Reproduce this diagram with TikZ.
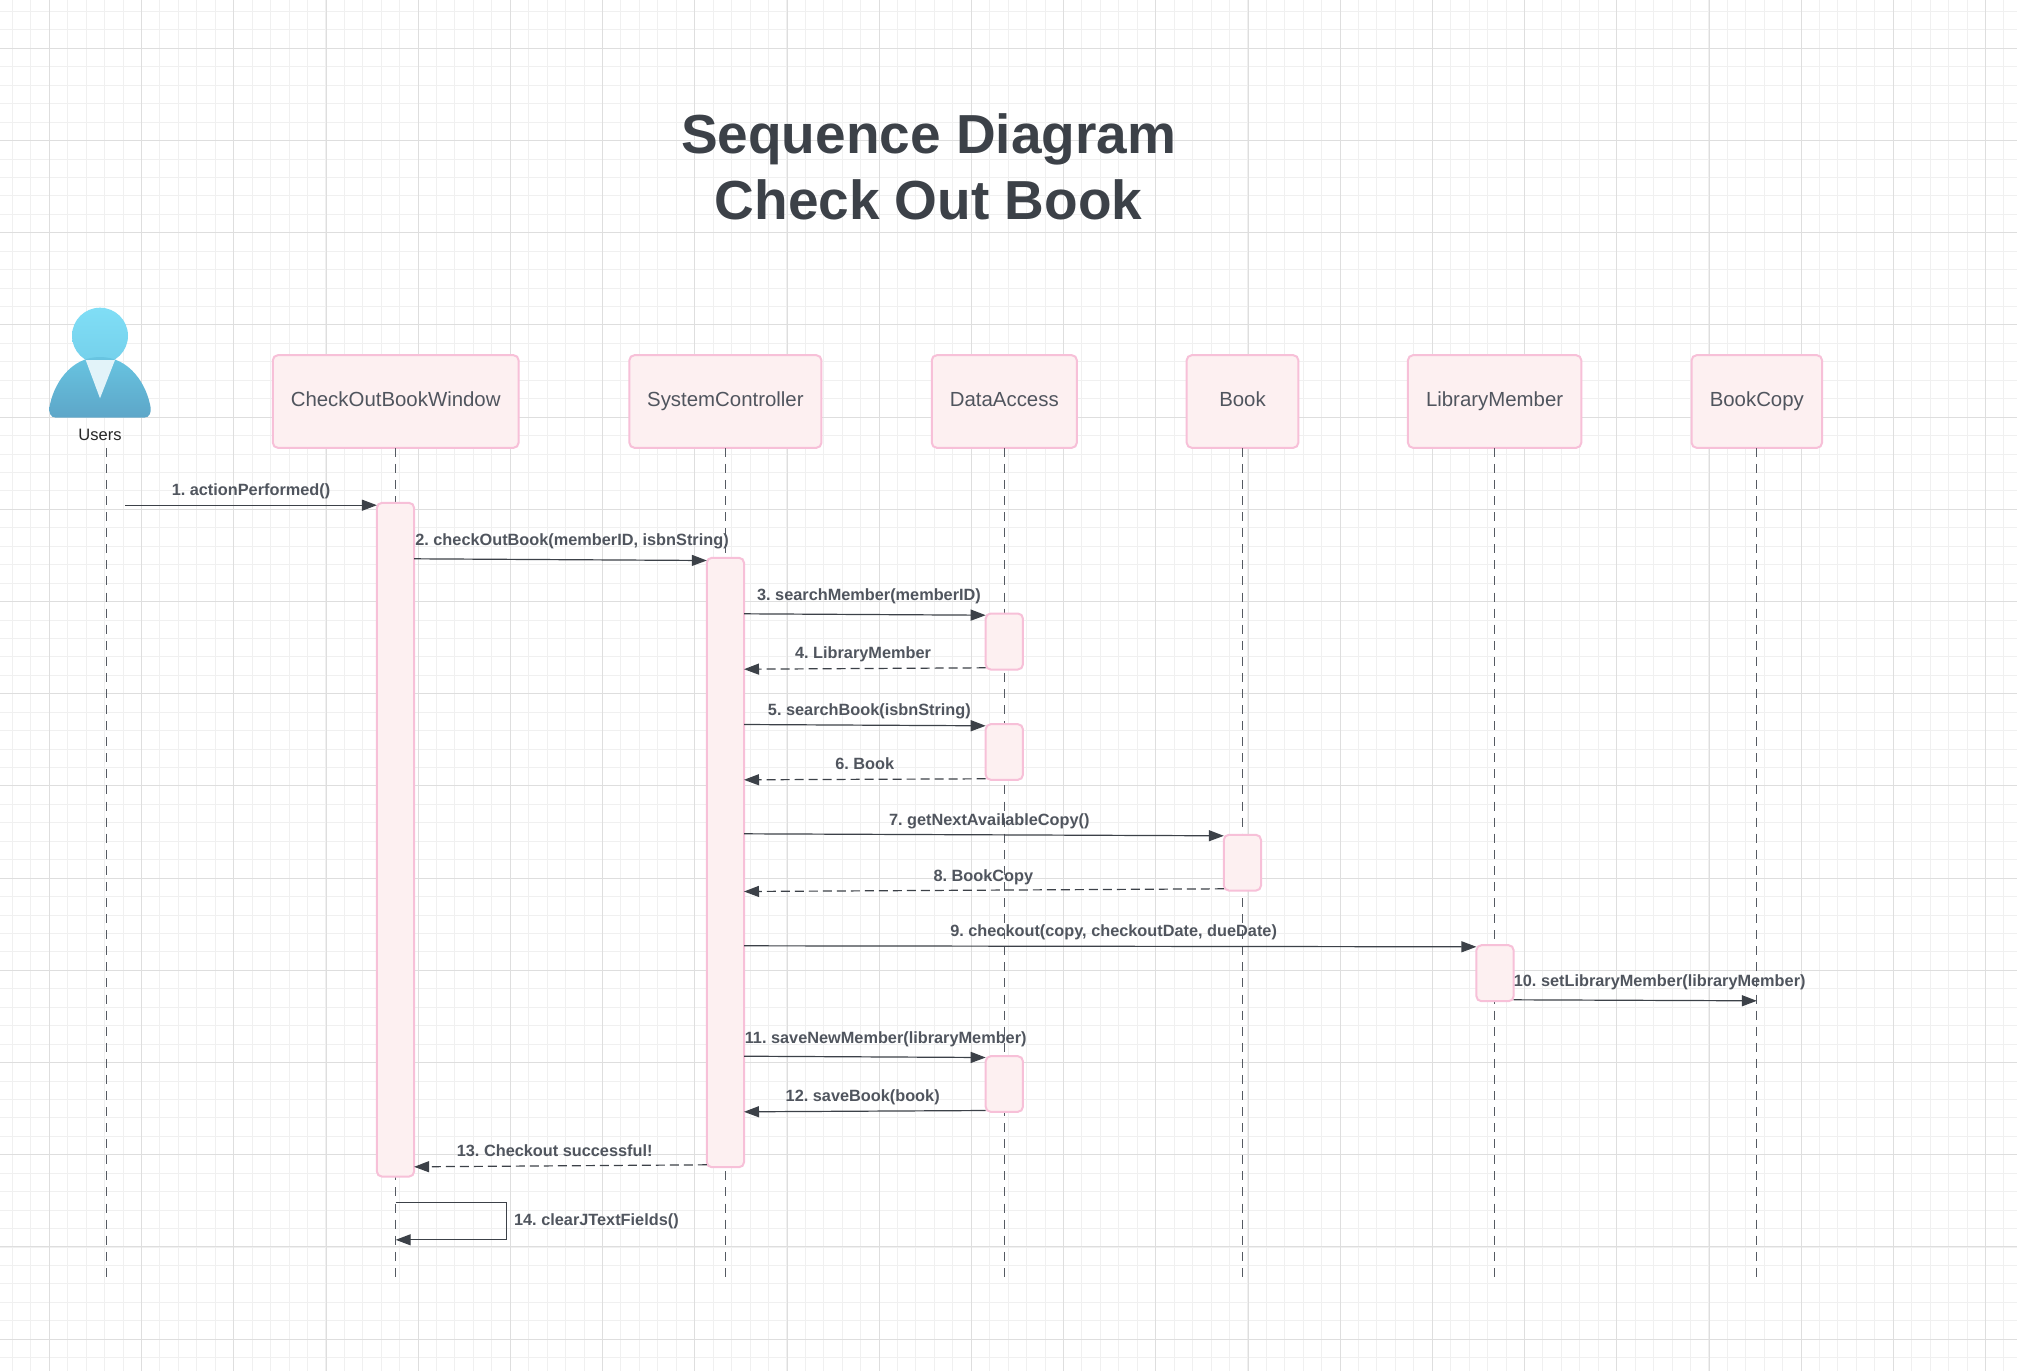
\documentclass[tikz,border=0pt]{standalone}
\usepackage{fontspec}
\setmainfont{Liberation Sans}
\frenchspacing
\usepackage{xcolor}
\definecolor{gridminor}{RGB}{240, 240, 240}
\definecolor{gridmajor}{RGB}{222, 222, 222}
\definecolor{boxfill}{RGB}{253, 240, 241}
\definecolor{boxline}{RGB}{247, 192, 216}
\definecolor{darkslate}{RGB}{60, 65, 72}
\definecolor{lifegray}{RGB}{85, 90, 98}
\definecolor{boxtext}{RGB}{80, 85, 94}
\definecolor{headtop}{RGB}{128, 222, 246}
\definecolor{headlow}{RGB}{116, 208, 235}
\definecolor{bodytop}{RGB}{104, 196, 225}
\definecolor{bodylow}{RGB}{93, 166, 200}
\definecolor{collar}{RGB}{226, 243, 249}
\usepackage{tikz}
\usetikzlibrary{arrows.meta, positioning, calc}
\tikzset{
    classbox/.style={draw=boxline, fill=boxfill, line width=2pt, rounded corners=5pt, outer sep=0pt, minimum height=92.6pt,
        text=boxtext, text height=1.2em, text depth=0.16em, font=\fontsize{20.4}{24}\selectfont},
    actbox/.style={draw=boxline, fill=boxfill, line width=2pt, rounded corners=5pt, outer sep=0pt, minimum width=37.2pt},
    lifeline/.style={draw=lifegray, line width=1.1pt, dash pattern=on 9pt off 7.08pt},
    call/.style={draw=darkslate, line width=1.2pt, ->},
    back/.style={call, dash pattern=on 9pt off 5pt},
    msglabel/.style={text=boxtext, inner sep=0pt, text height=0.75em, text depth=0.2em, font=\fontsize{16.3}{20}\selectfont\bfseries}
}
\begin{document}
\begin{tikzpicture}[x=1pt, y=-1pt, >={Stealth[inset=0pt, length=15pt, width=11pt]}]
    \useasboundingbox (0,0) rectangle (2017,1371);
    \fill[white] (0,0) rectangle (2017,1371);
    % background grid
    \foreach \i in {0,...,108} \draw[gridminor, line width=1pt] ({12.4+18.44*\i},0) -- ({12.4+18.44*\i},1371);
    \foreach \i in {0,...,74} \draw[gridminor, line width=1pt] (0,{11.5+18.44*\i}) -- (2017,{11.5+18.44*\i});
    \foreach \i in {0,...,21} \draw[gridmajor, line width=1pt] ({49.4+92.2*\i},0) -- ({49.4+92.2*\i},1371);
    \foreach \i in {0,...,14} \draw[gridmajor, line width=1pt] (0,{48.3+92.2*\i}) -- (2017,{48.3+92.2*\i});

    \node[text=darkslate, align=center, inner sep=0pt, font=\fontsize{55}{66.6}\selectfont\bfseries] (title) at (928.6,167) {Sequence Diagram\\Check Out Book};

    % the user figure
    \shade[top color=headtop, bottom color=headlow] (100,335.7) circle (28);
    \shade[top color=bodytop, bottom color=bodylow] (56,417.7) -- (144,417.7) .. controls (150,417.7) and (151,412) .. (150.7,408)
        .. controls (147,385) and (130,357) .. (100,357) .. controls (70,357) and (53,385) .. (49.3,408)
        .. controls (49,412) and (50,417.7) .. (56,417.7) -- cycle;
    \fill[collar] (85.7,360) -- (115,360) -- (100,398.3) -- cycle;
    \node[text=black!85, inner sep=0pt, font=\fontsize{16.5}{20}\selectfont] (users) at (100,435) {Users};

    \begin{scope}[yshift=-0.5pt]
    \node[classbox, minimum width=245.7pt] (window) at (395.7,401) {CheckOutBookWindow};
    \node[classbox, minimum width=192pt] (control) at (725.4,401) {SystemController};
    \node[classbox, minimum width=145pt] (access) at (1004.3,401) {DataAccess};
    \node[classbox, minimum width=111.6pt] (book) at (1242.5,401) {Book};
    \node[classbox, minimum width=173.3pt] (member) at (1494.6,401) {LibraryMember};
    \node[classbox, minimum width=130.4pt] (copy) at (1756.8,401) {BookCopy};

    % lifelines
    \coordinate (bottom) at (0,1276.3);
    \coordinate (usersTop) at (106.5,447.3);
    \coordinate (usersEnd) at (106.5,1276.3);
    \draw[lifeline] (usersTop) -- (usersEnd);
    \foreach \n in {window,control,access,book,member,copy} \draw[lifeline] (\n.south) -- (\n.south |- bottom);

    \node[actbox, minimum height=673.7pt] (actWindow) at (395.5,839.2) {};
    \node[actbox, minimum height=609.4pt] (actControl) at (725.4,862) {};
    \node[actbox, minimum height=56pt] (actAccessA) at (1004.3,641) {};
    \node[actbox, minimum height=55.6pt] (actAccessB) at (1004.3,751.5) {};
    \node[actbox, minimum height=55.7pt] (actBook) at (1242.4,862.2) {};
    \node[actbox, minimum height=56pt] (actMember) at (1495,972.7) {};
    \node[actbox, minimum height=55.6pt] (actAccessC) at (1004.3,1083.5) {};

    % messages
    \coordinate (start) at (125,504.7);
    \draw[call] (start) -- (actWindow.west |- start);
    \node[msglabel] (m1) at (251,492.5) {1. actionPerformed()};
    \draw[call] (actWindow.east |- 0,558.3) -- (actControl.west |- 0,560);
    \node[msglabel] (m2) at (572,542.5) {2. checkOutBook(memberID, isbnString)};
    \draw[call] (actControl.east |- 0,613.3) -- (actAccessA.west |- 0,614.7);
    \node[msglabel] (m3) at (869,597.5) {3. searchMember(memberID)};
    \draw[back] (actAccessA.west |- 0,667.3) -- (actControl.east |- 0,668.7);
    \node[msglabel] (m4) at (863,655.5) {4. LibraryMember};
    \draw[call] (actControl.east |- 0,724) -- (actAccessB.west |- 0,725.3);
    \node[msglabel] (m5) at (869.4,712.5) {5. searchBook(isbnString)};
    \draw[back] (actAccessB.west |- 0,778.3) -- (actControl.east |- 0,779.3);
    \node[msglabel] (m6) at (864.7,766.3) {6. Book};
    \draw[call] (actControl.east |- 0,833.3) -- (actBook.west |- 0,835.3);
    \node[msglabel] (m7) at (989.3,822.3) {7. getNextAvailableCopy()};
    \draw[back] (actBook.west |- 0,888.3) -- (actControl.east |- 0,891);
    \node[msglabel] (m8) at (983.3,878) {8. BookCopy};
    \draw[call] (actControl.east |- 0,945.3) -- (actMember.west |- 0,946.3);
    \node[msglabel] (m9) at (1113.6,933.5) {9. checkout(copy, checkoutDate, dueDate)};
    \draw[call] (actMember.east |- 0,999.3) -- (copy.south |- 0,1000.3);
    \node[msglabel] (m10) at (1659.7,983) {10. setLibraryMember(libraryMember)};
    \draw[call] (actControl.east |- 0,1055.7) -- (actAccessC.west |- 0,1057);
    \node[msglabel] (m11) at (885.7,1040) {11. saveNewMember(libraryMember)};
    \draw[call] (actAccessC.west |- 0,1110) -- (actControl.east |- 0,1111.3);
    \node[msglabel] (m12) at (862.7,1098.5) {12. saveBook(book)};
    \draw[back] (actControl.west |- 0,1164.3) -- (actWindow.east |- 0,1166.3);
    \node[msglabel] (m13) at (554.7,1153.5) {13. Checkout successful!};
    \draw[call] (window.south |- 0,1202.3) -| (506.3,1239.3) -- (window.south |- 0,1239.3);
    \node[msglabel] (m14) at (596.4,1222.5) {14. clearJTextFields()};
    \end{scope}
\end{tikzpicture}
\end{document}
